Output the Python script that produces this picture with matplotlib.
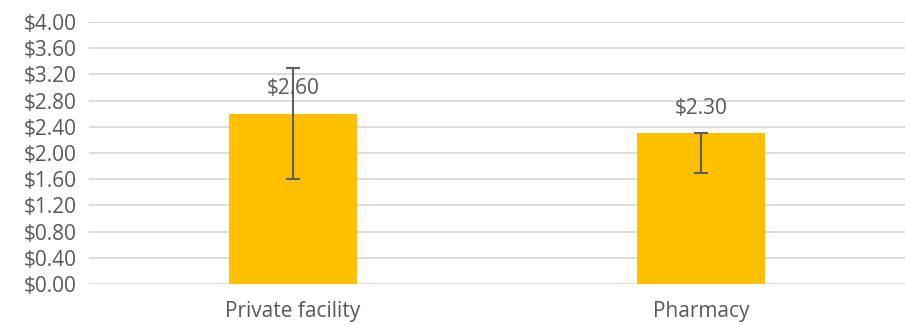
import numpy as np
import matplotlib.pyplot as plt

categories = ['Private facility', 'Pharmacy']
values = [2.60, 2.30]
err_low = [1.60, 1.70]
err_high = [3.30, 2.30]
labels = ['$2.60', '$2.30']
yticks = np.arange(0, 4.01, 0.4)

plt.rcParams['font.family'] = ['Open Sans', 'DejaVu Sans']
text_color = '#595959'

fig = plt.figure(figsize=(9.05, 3.25), dpi=100)
ax = fig.add_axes([89 / 905, 1 - 284 / 325, 816 / 905, 262 / 325])

x = np.arange(len(categories))
yerr = [np.array(values) - np.array(err_low), np.array(err_high) - np.array(values)]

ax.bar(x, values, width=0.314, color='#FFC000', zorder=2)
ax.errorbar(x, values, yerr=yerr, fmt='none', ecolor='#5f5f5f',
            elinewidth=1.5, capsize=5, capthick=1.5, zorder=3)

for xi, v, lab in zip(x, values, labels):
    ax.annotate(lab, (xi, v), xytext=(0, 18), textcoords='offset points',
                ha='center', va='center', fontsize=15, color=text_color, zorder=4)

ax.set_xlim(-0.5, 1.5)
ax.set_ylim(0, 4.0)
ax.set_yticks(yticks)
ax.set_yticklabels(['${:.2f}'.format(t) for t in yticks])
ax.set_xticks(x)
ax.set_xticklabels(categories)
ax.tick_params(axis='both', length=0, labelsize=15, colors=text_color)
ax.tick_params(axis='x', pad=12)
ax.tick_params(axis='y', pad=9)
ax.grid(axis='y', color='#d9d9d9', linewidth=1.3, zorder=0)
ax.set_axisbelow(True)
for s in ax.spines.values():
    s.set_visible(False)

fig.savefig('out.png', dpi=100)
